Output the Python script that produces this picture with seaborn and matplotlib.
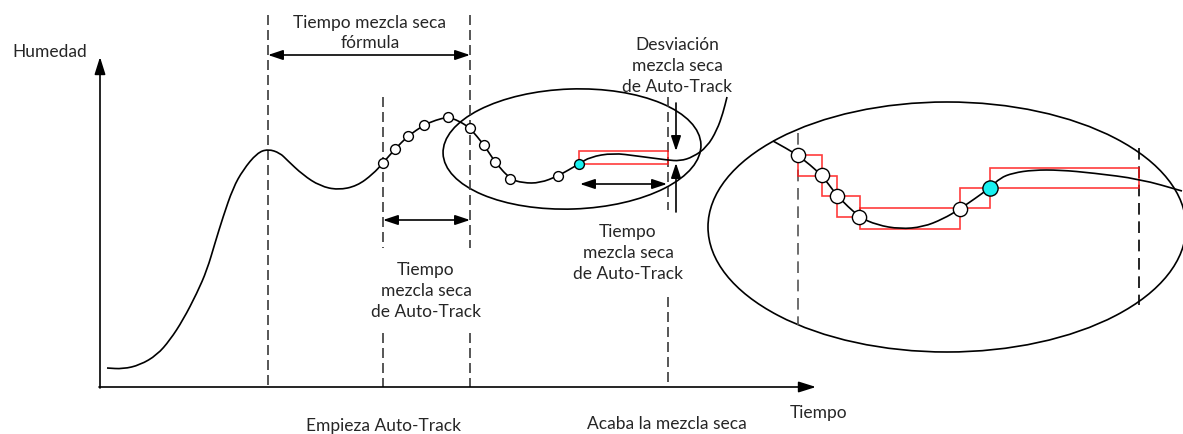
"""Diagram: humidity curve with Auto-Track dry-mix time detection."""

import matplotlib
matplotlib.use("Agg")
import matplotlib.pyplot as plt
from matplotlib.patches import Ellipse, Rectangle, PathPatch
from matplotlib.path import Path
import seaborn as sns

# Canvas is laid out in picture pixels (x right, y down)
W, H = 1183, 434

# Main humidity curve
curve_x = [107, 123, 140, 157, 170, 183, 197, 207, 215, 223, 233, 243, 257, 268, 280, 287,
           303, 320, 338, 357, 373, 383, 395, 408, 424, 436, 448, 459, 470, 484, 495, 510,
           523, 540, 558, 579, 590, 613, 637, 667, 680, 693, 707, 717, 723, 727]
curve_y = [368, 369, 365, 355, 340, 320, 293, 270, 243, 217, 188, 170, 153, 149, 153, 160,
           175, 186, 190, 186, 174, 163, 149, 136, 125, 120, 117, 121, 128, 145, 162, 179,
           183, 183, 176, 164, 157, 153, 156, 160, 161, 157, 147, 130, 113, 97]

# Auto-Track samples on the main curve (last one is the detection point)
samples_x = [383, 395, 408, 424, 448, 470, 484, 495, 510, 558]
samples_y = [163, 149, 136, 125, 117, 128, 145, 162, 179, 176]
hit_x, hit_y = 579, 164

# Zoomed-in detail
zoom_x = [773, 798, 822, 837, 859, 877, 900, 923, 943, 960, 990, 1000, 1013, 1033, 1060, 1093, 1140, 1182]
zoom_y = [141, 155, 175, 196, 217, 225, 229, 227, 219, 209, 188, 178, 173, 170, 170, 173, 179, 191]
zoom_samples_x = [798, 822, 837, 859, 960]
zoom_samples_y = [155, 175, 196, 217, 209]
zoom_hit_x, zoom_hit_y = 990, 188

# Tolerance boxes (x0, x1, top, bottom)
box_x0 = [798, 822, 837, 860, 960, 990, 579]
box_x1 = [822, 837, 860, 960, 990, 1139, 668]
box_top = [155, 176, 196, 208, 188, 168, 151]
box_bottom = [176, 196, 217, 229, 208, 188, 164]

# Dashed markers (x, y_start, y_end)
dash_x = [268, 470, 470, 383, 383, 668, 668]
dash_y0 = [15, 15, 333, 97, 333, 97, 297]
dash_y1 = [387, 248, 387, 248, 387, 210, 387]
zoom_dash_x = [798, 1139]
zoom_dash_y0 = [133, 148]
zoom_dash_y1 = [325, 305]


def smooth_curve(xs, ys):
    """Quadratic bezier path through the midpoints, knots used as control points."""
    pts = list(zip(xs, ys))
    mids = [((a[0] + b[0]) / 2, (a[1] + b[1]) / 2) for a, b in zip(pts[:-1], pts[1:])]
    verts = [pts[0], mids[0]]
    codes = [Path.MOVETO, Path.LINETO]
    for p, m in zip(pts[1:-1], mids[1:]):
        verts += [p, m]
        codes += [Path.CURVE3, Path.CURVE3]
    verts.append(pts[-1])
    codes.append(Path.LINETO)
    return Path(verts, codes)


sns.set_theme(style="white")
plt.rcParams["font.family"] = ["Lato", "DejaVu Sans"]

fig = plt.figure(figsize=(W / 100, H / 100), dpi=100)
ax = fig.add_axes([0, 0, 1, 1])

INK = "black"
LW = 1.2

# axes with arrow heads
axis_style = "-|>,head_length=0.7,head_width=0.22"
ax.annotate("", xy=(100, 57), xytext=(100, 388),
            arrowprops=dict(arrowstyle=axis_style, color=INK, lw=LW, mutation_scale=15,
                            shrinkA=0, shrinkB=0))
ax.annotate("", xy=(816, 387), xytext=(99, 387),
            arrowprops=dict(arrowstyle=axis_style, color=INK, lw=LW, mutation_scale=15,
                            shrinkA=0, shrinkB=0))

# dashed time markers
for x, y0, y1 in zip(dash_x, dash_y0, dash_y1):
    ax.plot([x, x], [y0, y1], color="#3a3a3a", lw=LW, dashes=(6, 3))
for x, y0, y1, c in zip(zoom_dash_x, zoom_dash_y0, zoom_dash_y1, ["#555555", INK]):
    ax.plot([x, x], [y0, y1], color=c, lw=LW, dashes=(7, 4))

# ellipses
ax.add_patch(Ellipse((572, 149), 258, 120, angle=-2, fill=False, edgecolor=INK, lw=LW))
ax.add_patch(Ellipse((947, 227), 478, 250, fill=False, edgecolor=INK, lw=LW))

# tolerance boxes
for x0, x1, t, b in zip(box_x0, box_x1, box_top, box_bottom):
    ax.add_patch(Rectangle((x0, t), x1 - x0, b - t, fill=False, edgecolor="#ff1a1a",
                           lw=LW, alpha=0.85, zorder=2))

# curves
for xs, ys in [(curve_x, curve_y), (zoom_x, zoom_y)]:
    ax.add_patch(PathPatch(smooth_curve(xs, ys), fill=False, edgecolor=INK, lw=LW, zorder=3))

# sample points
sns.scatterplot(x=samples_x, y=samples_y, s=50, color="white", edgecolor=INK, linewidth=1, ax=ax, zorder=4)
sns.scatterplot(x=[hit_x], y=[hit_y], s=50, color="#19f0f0", edgecolor=INK, linewidth=1, ax=ax, zorder=4)
sns.scatterplot(x=zoom_samples_x, y=zoom_samples_y, s=105, color="white", edgecolor=INK, linewidth=1, ax=ax, zorder=4)
sns.scatterplot(x=[zoom_hit_x], y=[zoom_hit_y], s=120, color="#19f0f0", edgecolor=INK, linewidth=1, ax=ax, zorder=4)

# dimension arrows
dim_style = "<|-|>,head_length=0.6,head_width=0.2"
for (x0, y0), (x1, y1) in [((268, 55), (470, 55)), ((383, 220), (470, 220)), ((580, 184), (667, 184))]:
    ax.annotate("", xy=(x1, y1), xytext=(x0, y0),
                arrowprops=dict(arrowstyle=dim_style, color=INK, lw=LW, mutation_scale=15,
                                shrinkA=0, shrinkB=0))
one_style = "-|>,head_length=0.6,head_width=0.2"
for (x0, y0), (x1, y1) in [((676, 103), (676, 151)), ((676, 212), (676, 163))]:
    ax.annotate("", xy=(x1, y1), xytext=(x0, y0),
                arrowprops=dict(arrowstyle=one_style, color=INK, lw=LW, mutation_scale=15,
                                shrinkA=0, shrinkB=0))

# labels
fs = 12.5
ax.text(12, 52, "Humedad", fontsize=fs, ha="left", va="center")
ax.text(790, 413, "Tiempo", fontsize=fs, ha="left", va="center")
ax.text(370, 33, "Tiempo mezcla seca\nfórmula", fontsize=fs, ha="center", va="center", linespacing=1.3)
ax.text(426, 291, "Tiempo\nmezcla seca\nde Auto-Track", fontsize=fs, ha="center", va="center",
        linespacing=1.4, bbox=dict(fc="white", ec="none", pad=0.5))
ax.text(677, 66, "Desviación\nmezcla seca\nde Auto-Track", fontsize=fs, ha="center", va="center",
        linespacing=1.4)
ax.text(628, 253, "Tiempo\nmezcla seca\nde Auto-Track", fontsize=fs, ha="center", va="center",
        linespacing=1.4)
ax.text(384, 426, "Empieza Auto-Track", fontsize=fs, ha="center", va="center")
ax.text(667, 424, "Acaba la mezcla seca", fontsize=fs, ha="center", va="center")

ax.set_xlim(0, W)
ax.set_ylim(H, 0)
ax.axis("off")

fig.savefig("out.png", dpi=100, facecolor="white")
plt.close(fig)
